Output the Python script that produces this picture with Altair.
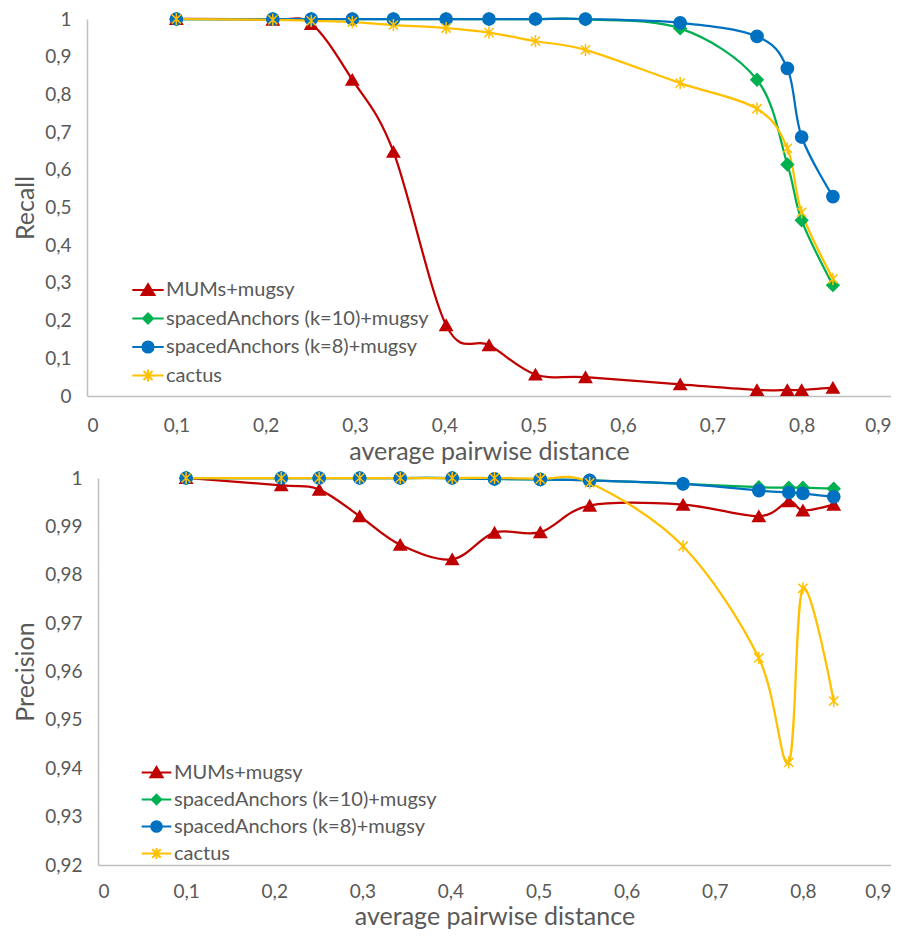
import altair as alt
import pandas as pd

series = ["MUMs+mugsy", "spacedAnchors (k=10)+mugsy", "spacedAnchors (k=8)+mugsy", "cactus"]
colors = ["#C00000", "#00B050", "#0070C0", "#FFC000"]

distance = [0.1, 0.208, 0.251, 0.297, 0.343, 0.402, 0.45, 0.502, 0.558, 0.664, 0.75, 0.784, 0.8, 0.835]

recall_mums = [1.0, 0.998, 0.987, 0.839, 0.648, 0.188, 0.135, 0.057, 0.05, 0.031, 0.016, 0.016, 0.016, 0.022]
recall_k10 = [1.0, 1.0, 1.0, 1.0, 1.0, 1.0, 1.0, 1.0, 0.999, 0.975, 0.839, 0.614, 0.466, 0.294]
recall_k8 = [1.0, 1.0, 1.0, 1.0, 1.0, 1.0, 1.0, 1.0, 1.0, 0.99, 0.954, 0.869, 0.687, 0.529]
recall_cactus = [1.0, 0.998, 0.995, 0.992, 0.984, 0.976, 0.964, 0.941, 0.918, 0.83, 0.762, 0.657, 0.487, 0.311]

precision_mums = [1.0, 0.9985, 0.9976, 0.9921, 0.9862, 0.9832, 0.9887, 0.9888, 0.9943, 0.9945, 0.9921, 0.9952, 0.9933, 0.9945]
precision_k10 = [1.0, 1.0, 1.0, 1.0, 1.0, 1.0, 0.9998, 0.9997, 0.9995, 0.9988, 0.9981, 0.998, 0.998, 0.9978]
precision_k8 = [1.0, 1.0, 1.0, 1.0, 1.0, 1.0, 0.9998, 0.9997, 0.9995, 0.9988, 0.9974, 0.997, 0.9968, 0.9961]
precision_cactus = [1.0, 1.0, 1.0, 1.0, 1.0, 1.0, 1.0, 0.9998, 0.999, 0.9859, 0.9628, 0.9412, 0.9772, 0.9539]

x_ticks = [0, 0.1, 0.2, 0.3, 0.4, 0.5, 0.6, 0.7, 0.8, 0.9]
recall_ticks = [0, 0.1, 0.2, 0.3, 0.4, 0.5, 0.6, 0.7, 0.8, 0.9, 1]
precision_ticks = [0.92, 0.93, 0.94, 0.95, 0.96, 0.97, 0.98, 0.99, 1]

# marker shapes for data points
marker_paths = [
    "triangle-up",
    "diamond",
    "circle",
    "M0,-1L0,1M-0.75,-0.75L0.75,0.75M-0.75,0.75L0.75,-0.75",
]
# legend symbols: line segment with marker in the middle
legend_paths = [
    "M-1.12,0L1.12,0M0,-0.42L0.46,0.36L-0.46,0.36Z",
    "M-1.12,0L1.12,0M0,-0.36L0.36,0L0,0.36L-0.36,0Z",
    "M-1.12,0L1.12,0M-0.4,0A0.4,0.4 0 1,0 0.4,0A0.4,0.4 0 1,0 -0.4,0Z",
    "M-1.12,0L1.12,0M0,-0.42L0,0.42M-0.32,-0.32L0.32,0.32M-0.32,0.32L0.32,-0.32",
]


def make_df(vals):
    rows = []
    for s, v in zip(series, vals):
        for d, y in zip(distance, v):
            rows.append({"series": s, "distance": d, "value": y})
    return pd.DataFrame(rows)


recall_df = make_df([recall_mums, recall_k10, recall_k8, recall_cactus])
precision_df = make_df([precision_mums, precision_k10, precision_k8, precision_cactus])

TEXT = "#595959"


def panel(df, ytitle, ydomain, yticks, yfmt, width, height, lx, ly, symsize, rowpad, xlp, xtp):
    base = alt.Chart(df).encode(
        x=alt.X(
            "distance:Q",
            scale=alt.Scale(domain=[0, 0.9], nice=False),
            axis=alt.Axis(
                values=x_ticks,
                labelExpr="replace(format(datum.value, '.1~f'), '.', ',')",
                title="average pairwise distance",
                labelPadding=xlp,
                titlePadding=xtp,
            ),
        ),
        y=alt.Y(
            "value:Q",
            scale=alt.Scale(domain=ydomain, nice=False, zero=False),
            axis=alt.Axis(
                values=yticks,
                labelExpr="replace(format(datum.value, '" + yfmt + "'), '.', ',')",
                title=ytitle,
                labelPadding=16,
                titlePadding=6,
            ),
        ),
    )
    sc = alt.Scale(domain=series, range=colors)
    lines = base.mark_line(interpolate="cardinal", strokeWidth=2.25).encode(
        stroke=alt.Stroke("series:N", scale=sc, legend=None),
    )
    points = base.mark_point(filled=True, opacity=1, size=150, strokeWidth=1.5).encode(
        shape=alt.Shape("series:N", scale=alt.Scale(domain=series, range=marker_paths), legend=None),
        fill=alt.Fill("series:N", scale=sc, legend=None),
        stroke=alt.Stroke("series:N", scale=sc, legend=None),
    )
    leg = alt.Legend(
        title=None,
        orient="none",
        legendX=lx,
        legendY=ly,
        labelFontSize=20,
        labelColor=TEXT,
        labelFont="Lato",
        labelOffset=3,
        labelLimit=600,
        rowPadding=rowpad,
        padding=0,
        symbolSize=symsize,
        symbolStrokeWidth=2,
        symbolOpacity=1,
    )
    legend_layer = base.transform_filter("false").mark_point(
        filled=True, opacity=1, size=symsize, strokeWidth=2
    ).encode(
        shape=alt.Shape("series:N", scale=alt.Scale(domain=series, range=legend_paths), legend=leg),
        fill=alt.Fill("series:N", scale=sc, legend=leg),
        stroke=alt.Stroke("series:N", scale=sc, legend=leg),
    )
    return alt.layer(lines, points, legend_layer).resolve_scale(
        shape="independent", fill="independent", stroke="independent"
    ).properties(width=width, height=height)


def spacer():
    return alt.Chart(pd.DataFrame({"a": [0]})).mark_point(opacity=0, size=0).encode(
        x=alt.X("a:Q", axis=None), y=alt.Y("a:Q", axis=None)
    ).properties(width=1, height=1)


top = panel(recall_df, "Recall", [0, 1], recall_ticks, ".1~f", 804, 377, 46, 256, 784, 3.5, 20, 4)
bottom = panel(precision_df, "Precision", [0.92, 1], precision_ticks, ".2~f", 793, 387, 44, 280, 700, 2, 17, 3)

chart = alt.vconcat(
    alt.hconcat(spacer(), top, spacing=0),
    alt.hconcat(spacer(), bottom, spacing=0),
    spacing=4,
).properties(
    padding={"left": 4, "top": 1, "right": 0, "bottom": 0}
).configure(font="Lato").configure_view(stroke=None).configure_axis(
    grid=False,
    ticks=False,
    domainColor="#BFBFBF",
    domainWidth=1.5,
    labelColor=TEXT,
    titleColor=TEXT,
    labelFontSize=19,
    titleFontSize=25,
    titleFontWeight="normal",
    labelFont="Lato",
    titleFont="Lato",
)

chart.save("out.html", embed_options={"renderer": "svg", "actions": False})
